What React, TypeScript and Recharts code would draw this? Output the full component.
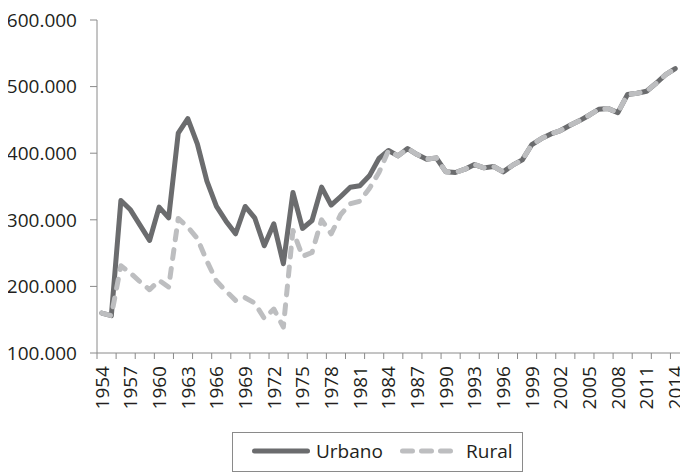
import React from 'react';
import { LineChart, Line, XAxis, YAxis, Legend } from 'recharts';

const years = [
  1954, 1955, 1956, 1957, 1958, 1959, 1960, 1961, 1962, 1963,
  1964, 1965, 1966, 1967, 1968, 1969, 1970, 1971, 1972, 1973,
  1974, 1975, 1976, 1977, 1978, 1979, 1980, 1981, 1982, 1983,
  1984, 1985, 1986, 1987, 1988, 1989, 1990, 1991, 1992, 1993,
  1994, 1995, 1996, 1997, 1998, 1999, 2000, 2001, 2002, 2003,
  2004, 2005, 2006, 2007, 2008, 2009, 2010, 2011, 2012, 2013, 2014,
];

const urbano = [
  160000, 156000, 329000, 315000, 292000, 269000, 319000, 303000, 430000, 452000,
  414000, 358000, 320000, 298000, 279000, 320000, 303000, 261000, 294000, 234000,
  341000, 287000, 299000, 349000, 322000, 335000, 349000, 351000, 366000, 392000,
  404000, 396000, 407000, 398000, 391000, 393000, 372000, 371000, 376000, 383000,
  378000, 380000, 372000, 382000, 390000, 413000, 422000, 429000, 434000, 442000,
  449000, 457000, 466000, 467000, 461000, 488000, 490000, 493000, 505000, 518000, 527000,
];

const rural = [
  160000, 156000, 231000, 220000, 207000, 195000, 209000, 199000, 302000, 289000,
  272000, 238000, 208000, 193000, 179000, 183000, 175000, 152000, 166000, 139000,
  284000, 245000, 251000, 300000, 279000, 308000, 324000, 328000, 347000, 371000,
  404000, 396000, 407000, 398000, 391000, 393000, 372000, 371000, 376000, 383000,
  378000, 380000, 372000, 382000, 390000, 413000, 422000, 429000, 434000, 442000,
  449000, 457000, 466000, 467000, 461000, 488000, 490000, 493000, 505000, 518000, 527000,
];

const labelYears = [
  1954, 1957, 1960, 1963, 1966, 1969, 1972, 1975, 1978, 1981, 1984,
  1987, 1990, 1993, 1996, 1999, 2002, 2005, 2008, 2011, 2014,
];

const boundaryTicks = [
  1953.5, 1955.5, 1957.5, 1959.5, 1961.5, 1963.5, 1965.5, 1967.5, 1969.5, 1971.5,
  1973.5, 1975.5, 1977.5, 1979.5, 1981.5, 1983.5, 1985.5, 1987.5, 1989.5, 1991.5,
  1993.5, 1995.5, 1997.5, 1999.5, 2001.5, 2003.5, 2005.5, 2007.5, 2009.5, 2011.5, 2013.5,
];

const yTicks = [100000, 200000, 300000, 400000, 500000, 600000];

const data = years.map((y, i) => ({ year: y, Urbano: urbano[i], Rural: rural[i] }));
const xTicks = [...boundaryTicks, ...labelYears].sort((a, b) => a - b);

const FONT = '"Open Sans", sans-serif';
const TEXT = '#231f20';
const AXIS = '#8a8a8a';
const URB = '#6b6c6e';
const RUR = '#bdbec0';

const fmt = (v: number) => (v / 1000).toFixed(0) + '.000';

const XTick = (props: any) => {
  const { x, y, payload } = props;
  const v = payload.value as number;
  if (v % 1 !== 0) {
    return <line x1={x} x2={x} y1={y} y2={y + 6} stroke={AXIS} strokeWidth={1} />;
  }
  const ty = y + 13;
  return (
    <text
      x={x}
      y={ty}
      transform={`rotate(-90 ${x} ${ty})`}
      textAnchor="end"
      dy="0.36em"
      fontFamily={FONT}
      fontSize={19}
      fill={TEXT}
    >
      {v}
    </text>
  );
};

const renderLegend = () => (
  <div
    style={{
      width: 291,
      height: 40,
      boxSizing: 'border-box',
      border: `1px solid ${AXIS}`,
      background: '#fff',
      position: 'relative',
    }}
  >
    <svg width={289} height={38} style={{ position: 'absolute', left: 0, top: 0 }}>
      <line x1={21.5} x2={74.5} y1={18} y2={18} stroke={URB} strokeWidth={5} strokeLinecap="round" />
      <text x={83} y={18} dy="0.36em" fontFamily={FONT} fontSize={19} fill={TEXT}>Urbano</text>
      <line x1={169.5} x2={222.5} y1={18} y2={18} stroke={RUR} strokeWidth={5} strokeLinecap="round" strokeDasharray="10 9" />
      <text x={233} y={18} dy="0.36em" fontFamily={FONT} fontSize={19} fill={TEXT}>Rural</text>
    </svg>
  </div>
);

export default function App() {
  return (
    <LineChart
      width={680}
      height={466}
      data={data}
      margin={{ top: 12, right: 8, bottom: 61, left: 0 }}
    >
      <XAxis
        dataKey="year"
        type="number"
        domain={[1953.5, 2014.5]}
        allowDataOverflow
        ticks={xTicks}
        interval={0}
        tick={<XTick />}
        tickLine={false}
        tickSize={0}
        tickMargin={0}
        height={60}
        axisLine={{ stroke: AXIS, strokeWidth: 1 }}
      />
      <YAxis
        type="number"
        domain={[100000, 600000]}
        ticks={yTicks}
        interval={0}
        tickFormatter={fmt}
        width={89}
        tickSize={7}
        tickMargin={13}
        axisLine={{ stroke: AXIS, strokeWidth: 1 }}
        tickLine={{ stroke: AXIS, strokeWidth: 1 }}
        tick={{ fill: TEXT, fontSize: 19, fontFamily: FONT }}
      />
      <Legend
        layout="horizontal"
        verticalAlign="middle"
        align="center"
        width={291}
        height={40}
        wrapperStyle={{ left: 224, top: 424, width: 291, height: 40 }}
        content={renderLegend}
      />
      <Line
        type="linear"
        dataKey="Urbano"
        stroke={URB}
        strokeWidth={5}
        strokeLinejoin="round"
        strokeLinecap="round"
        dot={false}
        activeDot={false}
        isAnimationActive={false}
      />
      <Line
        type="linear"
        dataKey="Rural"
        stroke={RUR}
        strokeWidth={5}
        strokeLinejoin="round"
        strokeLinecap="round"
        strokeDasharray="9 10"
        dot={false}
        activeDot={false}
        isAnimationActive={false}
      />
    </LineChart>
  );
}
